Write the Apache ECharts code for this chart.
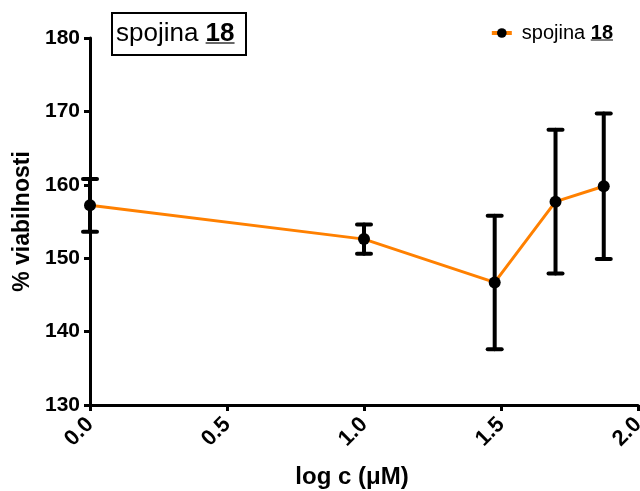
<!DOCTYPE html>
<html>
<head>
<meta charset="utf-8">
<script src="https://cdn.jsdelivr.net/npm/echarts@6/dist/echarts.min.js"></script>
<style>
  html, body { margin: 0; padding: 0; background: #fff; }
  #chart { width: 640px; height: 491px; }
</style>
</head>
<body>
<div id="chart"></div>
<script>
// log koncentracije (µM) in povprečna viabilnost ± napaka
const logC = [0, 1.0, 1.477, 1.699, 1.875];
const viability = [157.2, 152.6, 146.7, 157.7, 159.8];
const errors = [3.6, 2.0, 9.1, 9.8, 9.9];
const seriesName = "spojina 18";

const font = "Liberation Sans, Arial, sans-serif";
const chart = echarts.init(document.getElementById("chart"));

const lineData = logC.map((x, i) => [x, viability[i]]);
const barData = logC.map((x, i) => [x, viability[i] - errors[i], viability[i] + errors[i]]);

// širina besedila za podčrtaje
const ctx = document.createElement("canvas").getContext("2d");
const textWidth = (t, f) => { ctx.font = f; return ctx.measureText(t).width; };

const titleFont = 26, legendFont = 20;
const titleLeft = 112, titlePad = [8, 12, 8, 4];
const uTitleX = titleLeft + titlePad[3] + textWidth("spojina ", `${titleFont}px ${font}`);
const uTitleW = textWidth("18", `bold ${titleFont}px ${font}`);
const legendRight = 27;
const uLegW = textWidth("18", `bold ${legendFont}px ${font}`);
const uLegX = 640 - legendRight - uLegW;

const option = {
  animation: false,
  grid: { left: 90, right: 2, top: 38, bottom: 86, outerBoundsMode: "none", containLabel: false },
  title: {
    text: "spojina {u|18}",
    left: titleLeft,
    top: 13,
    padding: titlePad,
    borderColor: "#000",
    borderWidth: 2,
    textStyle: {
      fontFamily: font,
      fontSize: titleFont,
      fontWeight: "normal",
      color: "#000",
      rich: { u: { fontFamily: font, fontSize: titleFont, fontWeight: "bold", color: "#000" } },
    },
  },
  legend: {
    right: legendRight,
    top: 23,
    padding: 0,
    itemWidth: 20,
    itemHeight: 12,
    itemGap: 6,
    data: [seriesName],
    formatter: () => "spojina {u|18}",
    lineStyle: { width: 4 },
    textStyle: {
      fontFamily: font,
      fontSize: legendFont,
      color: "#000",
      padding: [0, 0, 0, 5],
      rich: { u: { fontFamily: font, fontSize: legendFont, fontWeight: "bold", color: "#000" } },
    },
  },
  graphic: [
    // podčrtaj številke spojine
    { type: "line", shape: { x1: uTitleX, y1: 43, x2: uTitleX + uTitleW, y2: 43 }, style: { stroke: "#000", lineWidth: 1.2 } },
    { type: "line", shape: { x1: uLegX, y1: 40, x2: uLegX + uLegW, y2: 40 }, style: { stroke: "#000", lineWidth: 1 } },
  ],
  xAxis: {
    type: "value",
    min: 0,
    max: 2,
    interval: 0.5,
    name: "log c (\u03bcM)",
    nameLocation: "middle",
    nameGap: 60,
    nameTextStyle: { fontFamily: font, fontSize: 24, fontWeight: "bold", color: "#000", padding: [0, 24, 0, 0] },
    axisLine: { onZero: false, lineStyle: { color: "#000", width: 3 } },
    axisTick: { length: 6, lineStyle: { color: "#000", width: 3 } },
    splitLine: { show: false },
    axisLabel: {
      rotate: 45,
      margin: 16,
      fontFamily: font,
      fontSize: 22,
      fontWeight: "bold",
      color: "#000",
      formatter: (v) => v.toFixed(1),
    },
  },
  yAxis: {
    type: "value",
    min: 130,
    max: 180,
    interval: 10,
    name: "% viabilnosti",
    nameLocation: "middle",
    nameGap: 52,
    nameTextStyle: { fontFamily: font, fontSize: 23, fontWeight: "bold", color: "#000" },
    axisLine: { show: true, lineStyle: { color: "#000", width: 3 } },
    axisTick: { show: true, length: 6, lineStyle: { color: "#000", width: 3 } },
    splitLine: { show: false },
    axisLabel: { margin: 10, fontFamily: font, fontSize: 21, fontWeight: "bold", color: "#000" },
  },
  series: [
    {
      type: "custom",
      name: "napaka",
      clip: false,
      data: barData,
      renderItem: (params, api) => {
        const x = api.value(0);
        const lo = api.coord([x, api.value(1)]);
        const hi = api.coord([x, api.value(2)]);
        const w = 7;
        const style = { stroke: "#000", lineWidth: 4, lineCap: "round" };
        return {
          type: "group",
          children: [
            { type: "line", shape: { x1: hi[0], y1: hi[1], x2: lo[0], y2: lo[1] }, style },
            { type: "line", shape: { x1: hi[0] - w, y1: hi[1], x2: hi[0] + w, y2: hi[1] }, style },
            { type: "line", shape: { x1: lo[0] - w, y1: lo[1], x2: lo[0] + w, y2: lo[1] }, style },
          ],
        };
      },
      z: 2,
    },
    {
      type: "line",
      name: seriesName,
      data: lineData,
      symbol: "circle",
      symbolSize: 12,
      clip: false,
      lineStyle: { color: "#ff8000", width: 3 },
      itemStyle: { color: "#000" },
      z: 3,
    },
  ],
};

chart.setOption(option);
</script>
</body>
</html>
